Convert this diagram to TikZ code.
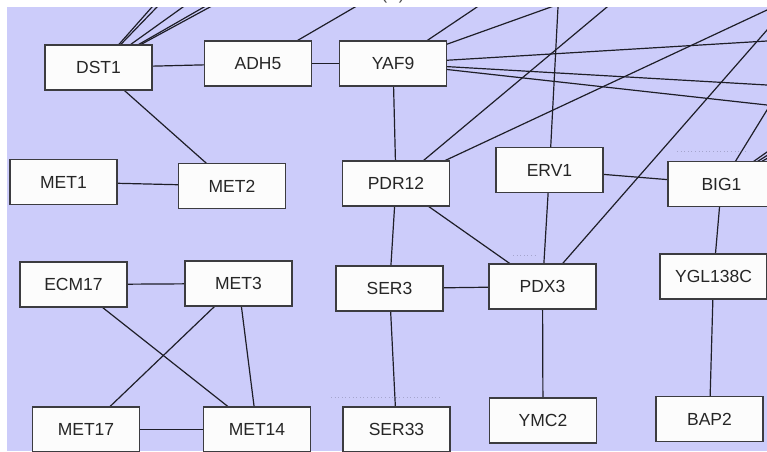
\documentclass[tikz,border=0pt]{standalone}
\usepackage{fontspec}
\setmainfont{Liberation Sans}
\usetikzlibrary{calc}
\definecolor{canvas}{RGB}{204,204,250}
\definecolor{boxfill}{RGB}{252,252,252}
\definecolor{boxline}{RGB}{60,60,64}
\definecolor{edgeline}{RGB}{30,30,40}
\definecolor{hintdots}{RGB}{165,165,205}
\pgfdeclarelayer{backdrop}
\pgfdeclarelayer{edges}
\pgfsetlayers{backdrop,edges,main}

\begin{document}
\begin{tikzpicture}[x=1pt,y=-1pt,
  gene/.style={draw=boxline, line width=1.4pt, fill=boxfill,
    minimum width=107pt, minimum height=45pt, inner sep=0pt,
    font=\fontsize{17.5}{20}\selectfont, text=black!85},
  link/.style={draw=edgeline, line width=1.2pt},
  hint/.style={draw=hintdots, line width=1pt, dash pattern=on 1pt off 2.6pt}]
\useasboundingbox (0,0) rectangle (767,451);

% panel label, mostly above the page edge
\node[font=\fontsize{17.5}{20}\selectfont, text=black!70, anchor=base, inner sep=0pt]
  (panel) at (393,-0.5) {(B)};

% genes
\node[gene] (DST1)    at (98.5,67.5)  {DST1};
\node[gene] (ADH5)    at (258,63.5)   {ADH5};
\node[gene] (YAF9)    at (393,63.5)   {YAF9};
\node[gene] (MET1)    at (63.5,182)   {MET1};
\node[gene] (MET2)    at (232,186)    {MET2};
\node[gene] (PDR12)   at (396,183.5)  {PDR12};
\node[gene] (ERV1)    at (549.5,170)  {ERV1};
\node[gene] (BIG1)    at (721.5,184)  {BIG1};
\node[gene] (ECM17)   at (73.5,284.5) {ECM17};
\node[gene] (MET3)    at (238.5,283.5){MET3};
\node[gene] (SER3)    at (389.5,288.5){SER3};
\node[gene] (PDX3)    at (542.5,286.5){PDX3};
\node[gene] (YGL138C) at (713.5,276.5){YGL138C};
\node[gene] (MET17)   at (86,429.5)   {MET17};
\node[gene] (MET14)   at (257,429.5)  {MET14};
\node[gene] (SER33)   at (396.5,429.5){SER33};
\node[gene] (YMC2)    at (543,420.5)  {YMC2};
\node[gene] (BAP2)    at (709.5,419)  {BAP2};

% partners lying outside the visible area
\coordinate (d1) at ($(DST1.center)!1.5!(152,7)$);
\coordinate (d2) at ($(DST1.center)!1.5!(157,7)$);
\coordinate (d3) at ($(DST1.center)!1.5!(183,7)$);
\coordinate (d4) at ($(DST1.center)!1.5!(204,7)$);
\coordinate (d5) at ($(DST1.center)!1.5!(210,7)$);
\coordinate (a1) at ($(ADH5.center)!1.5!(355,7)$);
\coordinate (y1) at ($(YAF9.center)!1.5!(477,7)$);
\coordinate (y2) at ($(YAF9.center)!1.5!(551,7)$);
\coordinate (y3) at ($(YAF9.center)!1.2!(767,41)$);
\coordinate (y4) at ($(YAF9.center)!1.2!(767,85)$);
\coordinate (y5) at ($(YAF9.center)!1.2!(767,105)$);
\coordinate (p1) at ($(PDR12.center)!1.3!(607,7)$);
\coordinate (p2) at ($(PDR12.center)!1.3!(767,10)$);
\coordinate (e1) at ($(ERV1.center)!1.3!(558,7)$);
\coordinate (x1) at ($(PDX3.center)!1.3!(767,30)$);
\coordinate (b1) at ($(BIG1.center)!1.5!(767,110)$);
\coordinate (b2) at ($(BIG1.center)!1.5!(767,152)$);
\coordinate (b3) at ($(BIG1.center)!1.5!(767,155.5)$);
\coordinate (b4) at ($(BIG1.center)!1.5!(767,158.5)$);

\begin{pgfonlayer}{backdrop}
  \fill[white] (0,0) rectangle (767,451);
  \fill[canvas] (7,7) rectangle (767,451);
\end{pgfonlayer}

\begin{pgfonlayer}{edges}
  \begin{scope}
    \clip (7,7) rectangle (767,451);
    % interactions within view
    \draw[link] (DST1.center) -- (ADH5.center);
    \draw[link] (ADH5.center) -- (YAF9.center);
    \draw[link] (DST1.center) -- (MET2.center);
    \draw[link] (MET1.center) -- (MET2.center);
    \draw[link] (ECM17.center) -- (MET3.center);
    \draw[link] (ECM17.center) -- (MET14.center);
    \draw[link] (MET3.center) -- (MET14.center);
    \draw[link] (MET3.center) -- (MET17.center);
    \draw[link] (MET17.center) -- (MET14.center);
    \draw[link] (YAF9.center) -- (PDR12.center);
    \draw[link] (PDR12.center) -- (SER3.center);
    \draw[link] (PDR12.center) -- (PDX3.center);
    \draw[link] (SER3.center) -- (PDX3.center);
    \draw[link] (SER3.center) -- (SER33.center);
    \draw[link] (ERV1.center) -- (PDX3.center);
    \draw[link] (ERV1.center) -- (BIG1.center);
    \draw[link] (PDX3.center) -- (YMC2.center);
    \draw[link] (BIG1.center) -- (YGL138C.center);
    \draw[link] (YGL138C.center) -- (BAP2.center);
    % interactions leaving the view
    \foreach \t in {d1,d2,d3,d4,d5} \draw[link] (DST1.center) -- (\t);
    \draw[link] (ADH5.center) -- (a1);
    \foreach \t in {y1,y2,y3,y4,y5} \draw[link] (YAF9.center) -- (\t);
    \draw[link] (PDR12.center) -- (p1);
    \draw[link] (PDR12.center) -- (p2);
    \draw[link] (ERV1.center) -- (e1);
    \draw[link] (PDX3.center) -- (x1);
    \foreach \t in {b1,b2,b3,b4} \draw[link] (BIG1.center) -- (\t);
    % faint dotted guides
    \draw[hint] (677,151) -- (747,151);
    \draw[hint] (331,397) -- (442,397);
    \draw[hint] (513,255) -- (537,255);
  \end{scope}
\end{pgfonlayer}
\end{tikzpicture}
\end{document}
